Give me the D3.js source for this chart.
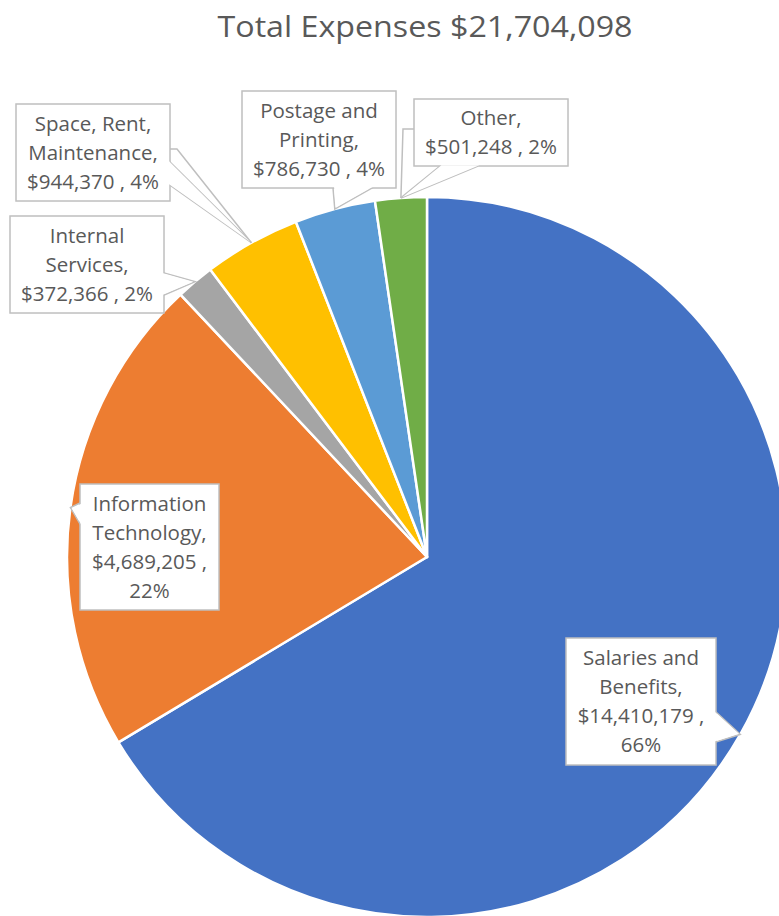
<!DOCTYPE html>
<html>
<head>
<meta charset="utf-8">
<script src="https://cdn.jsdelivr.net/npm/d3@7"></script>
<style>
  body { margin: 0; background: #fff; }
</style>
</head>
<body>
<script>
(()=>{
    // data
    const categories = ["Salaries and Benefits", "Information Technology", "Internal Services",
                        "Space, Rent, Maintenance", "Postage and Printing", "Other"];
    const values = [14410179, 4689205, 372366, 944370, 786730, 501248];
    const labelLines = [
        ["Salaries and", "Benefits,", "$14,410,179 ,", "66%"],
        ["Information", "Technology,", "$4,689,205 ,", "22%"],
        ["Internal", "Services,", "$372,366 , 2%"],
        ["Space, Rent,", "Maintenance,", "$944,370 , 4%"],
        ["Postage and", "Printing,", "$786,730 , 4%"],
        ["Other,", "$501,248 , 2%"]
    ];
    const colors = ["#4472C4", "#ED7D31", "#A5A5A5", "#FFC000", "#5B9BD5", "#70AD47"];

    const width = 779;
    const height = 916;
    const cx = 427, cy = 557, radius = 360;
    const lineH = 29;
    const font = "'Open Sans', Lato, sans-serif";

    // callout boxes (layout only) : box + two base points of the pointer, optional leader elbow
    const boxes = [
        {x:566, y:638, w:150, h:127, base:[[716,712],[716,742]]},
        {x:80,  y:484, w:139, h:126, base:[[80,503],[80,524]]},
        {x:10,  y:216, w:154, h:97,  base:[[164,273],[164,295]]},
        {x:16,  y:104, w:154, h:97,  base:[[170,162],[170,185]], leader:[[170,149],[177,149]]},
        {x:242, y:91,  w:154, h:97,  base:[[333,188],[372,188]]},
        {x:414, y:99,  w:154, h:67,  base:[[440,166],[478,166]], leader:[[414,129],[403,129]]}
    ];

    const total = d3.sum(values);

    const svg = d3.create("svg")
        .attr("width", width)
        .attr("height", height)
        .attr("viewBox", [0, 0, width, height]);

    svg.append("text")
        .attr("x", 425)
        .attr("y", 37)
        .attr("text-anchor", "middle")
        .attr("font-family", font)
        .attr("font-size", "29px")
        .attr("fill", "#595959")
        .attr("textLength", 415)
        .attr("lengthAdjust", "spacingAndGlyphs")
        .text("Total Expenses " + d3.format("$,")(total));

    const pie = d3.pie().sort(null).value(d => d)(values);
    const arc = d3.arc().innerRadius(0).outerRadius(radius);
    const edge = d3.arc().innerRadius(radius).outerRadius(radius);

    const g = svg.append("g").attr("transform", `translate(${cx},${cy})`);
    g.selectAll("path")
        .data(pie)
        .join("path")
        .attr("d", arc)
        .attr("fill", (d, i) => colors[i])
        .attr("stroke", "#fff")
        .attr("stroke-width", 2.5)
        .attr("stroke-linejoin", "round");

    // labels
    pie.forEach((d, i) => {
        const b = boxes[i];
        const c = edge.centroid(d);
        const tip = [cx + c[0], cy + c[1]];
        const lab = svg.append("g");

        if (b.leader) {
            lab.append("path")
                .attr("d", d3.line()([...b.leader, tip]))
                .attr("fill", "none")
                .attr("stroke", "#BFBFBF")
                .attr("stroke-width", 1.5);
        }

        // wedge
        lab.append("path")
            .attr("d", d3.line()([b.base[0], tip, b.base[1]]) + "Z")
            .attr("fill", "#fff")
            .attr("stroke", "#BFBFBF")
            .attr("stroke-width", 1.5)
            .attr("stroke-linejoin", "miter");

        lab.append("rect")
            .attr("x", b.x)
            .attr("y", b.y)
            .attr("width", b.w)
            .attr("height", b.h)
            .attr("fill", "#fff")
            .attr("stroke", "#BFBFBF")
            .attr("stroke-width", 1.5);

        // cover the box border where the wedge attaches
        lab.append("path")
            .attr("d", d3.line()([b.base[0], tip, b.base[1]]) + "Z")
            .attr("fill", "#fff")
            .attr("stroke", "none")
            .attr("transform", () => {
                const mx = (b.base[0][0] + b.base[1][0]) / 2, my = (b.base[0][1] + b.base[1][1]) / 2;
                const dx = mx - tip[0], dy = my - tip[1];
                const len = Math.hypot(dx, dy);
                return `translate(${dx / len * 1.6},${dy / len * 1.6})`;
            });

        const lines = labelLines[i];
        const y0 = b.y + (b.h - (lines.length - 1) * lineH) / 2;
        const t = lab.append("text")
            .attr("text-anchor", "middle")
            .attr("font-family", font)
            .attr("font-size", "20.5px")
            .attr("fill", "#595959");
        lines.forEach((s, k) => {
            t.append("tspan")
                .attr("x", b.x + b.w / 2)
                .attr("y", y0 + k * lineH)
                .attr("dy", "0.35em")
                .text(s);
        });
    });

    d3.select("body").append(() => svg.node());
})()
</script>
</body>
</html>
